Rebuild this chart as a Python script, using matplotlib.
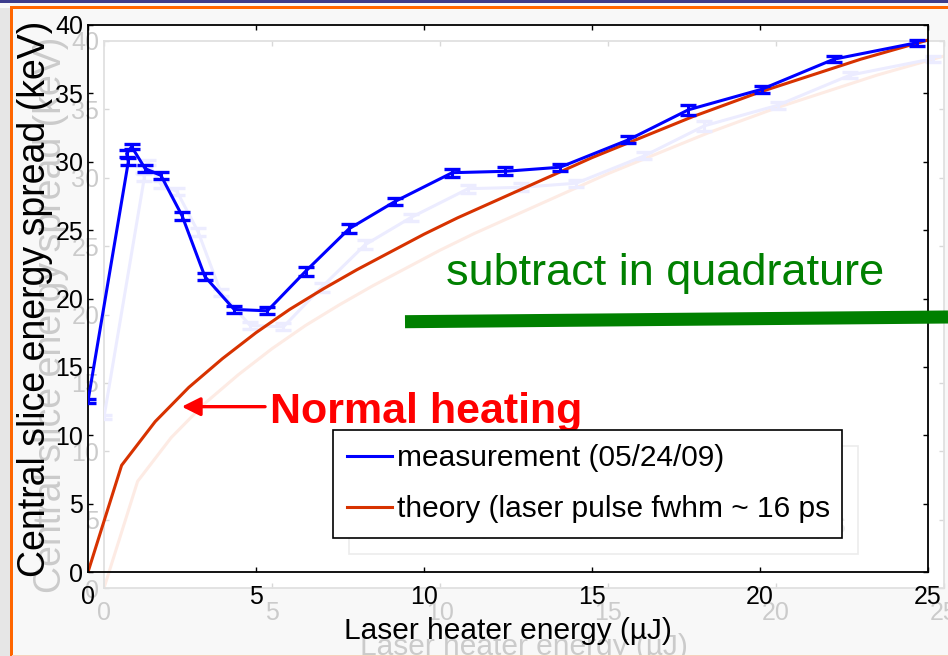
import matplotlib
matplotlib.use("Agg")
import matplotlib.pyplot as plt
from matplotlib.lines import Line2D
from matplotlib.patches import Rectangle

# Slice energy spread measured at the centre of the bunch vs. laser heater pulse energy
energy_uJ = [0.0, 1.2, 1.15, 1.3, 1.7, 2.17, 2.8, 3.48, 4.35, 5.34, 6.48,
             7.77, 9.14, 10.84, 12.41, 14.05, 16.08, 17.87, 20.05, 22.2, 24.66]
spread_keV = [12.5, 30.0, 30.6, 31.1, 29.5, 29.0, 26.05, 21.6, 19.2, 19.1, 22.0,
              25.1, 27.1, 29.2, 29.3, 29.6, 31.6, 33.8, 35.3, 37.5, 38.7]
spread_err = [0.15, 0.25, 0.25, 0.2, 0.25, 0.25, 0.28, 0.25, 0.27, 0.27, 0.33,
              0.33, 0.27, 0.28, 0.3, 0.25, 0.25, 0.37, 0.27, 0.2, 0.2]

# Expected heating for a 16 ps fwhm laser pulse
theory_energy = [0, 1, 2, 3, 4, 5, 6, 7, 8, 9, 10, 11, 12, 13, 14, 15, 16,
                 17, 18, 19, 20, 21, 22, 23, 24, 25]
theory_keV = [0.0, 7.8, 11.0, 13.5, 15.6, 17.5, 19.2, 20.7, 22.1, 23.4, 24.7,
              25.9, 27.0, 28.1, 29.2, 30.3, 31.3, 32.3, 33.3, 34.2, 35.1,
              35.9, 36.7, 37.5, 38.2, 38.9]

x_ticks = [0, 5, 10, 15, 20, 25]
y_ticks = [0, 5, 10, 15, 20, 25, 30, 35, 40]
legend_labels = ["measurement (05/24/09)", "theory (laser pulse fwhm ~ 16 ps"]

FONT = ["Liberation Sans", "DejaVu Sans"]
plt.rcParams["font.family"] = FONT

W, H = 948, 656
fig = plt.figure(figsize=(W / 100, H / 100), dpi=100)
fig.patch.set_facecolor("#f8f8f8")


def frac(x0, y_top, w, h):
    """Pixel box (left, top, width, height) -> figure fraction rect."""
    return [x0 / W, 1 - (y_top + h) / H, w / W, h / H]


MAIN = dict(blue="#0000ff", red="#d73200", text="black", frame="black",
            leg_text="black", leg_frame="black", tick="black")
GHOST = dict(blue="#ececff", red="#fdebe4", text="#cbcbcb", frame="#e0e0e0",
             leg_text="#ececec", leg_frame="#ececec", tick="#d8d8d8")


def draw_panel(ax, pal):
    ax.errorbar(energy_uJ, spread_keV, yerr=spread_err, color=pal["blue"],
                lw=2.2, elinewidth=2.2, capsize=5.8, capthick=2.4, zorder=3)
    ax.plot(theory_energy, theory_keV, color=pal["red"], lw=2.2, zorder=2)
    ax.set_xlim(0, 25)
    ax.set_ylim(0, 40)
    ax.set_xticks(x_ticks)
    ax.set_yticks(y_ticks)
    for s in ax.spines.values():
        s.set_color(pal["frame"])
        s.set_linewidth(1.3)
    ax.tick_params(direction="in", length=3.8, width=1.0, top=True, right=True,
                   colors=pal["tick"], labelcolor=pal["text"], labelsize=18)
    ax.tick_params(axis="x", pad=9.5)
    ax.tick_params(axis="y", pad=3.5)
    ax.set_xlabel("Laser heater energy (\u00b5J)", fontsize=21.5, color=pal["text"])
    ax.set_ylabel("Central slice energy spread (keV)", fontsize=27,
                  color=pal["text"])
    ax.xaxis.set_label_coords(0.5, -0.082)
    ax.yaxis.set_label_coords(-0.042, 0.5)
    handles = [Line2D([], [], color=pal["blue"], lw=2.2),
               Line2D([], [], color=pal["red"], lw=2.2)]
    leg = ax.legend(handles, legend_labels, loc="upper left",
                    bbox_to_anchor=(0.2917, 0.0, 0.606, 0.2596), mode="expand",
                    borderaxespad=0, fontsize=21.5, frameon=True, fancybox=False,
                    framealpha=1, edgecolor=pal["leg_frame"], facecolor="white",
                    handlelength=1.5, handletextpad=0.17, borderpad=0.48,
                    labelspacing=0.77, labelcolor=pal["leg_text"])
    leg.get_frame().set_linewidth(1.2)
    return ax


# white plotting area behind both layers
fig.add_artist(Rectangle((88 / W, 1 - 572 / H), 840 / W, 547 / H,
                         transform=fig.transFigure, facecolor="white",
                         edgecolor="none", zorder=0.5))

ghost = fig.add_axes(frac(104, 41, 840, 547), zorder=1)
ghost.set_facecolor("white")
draw_panel(ghost, GHOST)

ax = fig.add_axes(frac(88, 25, 840, 547), zorder=2)
ax.set_facecolor("none")
draw_panel(ax, MAIN)

# annotations
ax.annotate("", xy=(2.79, 12.09), xytext=(5.27, 12.09),
            arrowprops=dict(arrowstyle="-|>", color="#ff0000", lw=2.4,
                            mutation_scale=28, shrinkA=0, shrinkB=0))
ax.text(5.42, 10.9, "Normal heating", color="#ff0000", fontsize=31,
        fontweight="bold", va="baseline", ha="left")
ax.text(10.65, 20.99, "subtract in quadrature", color="#008000", fontsize=32.5,
        va="baseline", ha="left")

fig.add_artist(Line2D([405 / W, 1.0], [1 - 321.7 / H, 1 - 317.0 / H],
                      transform=fig.transFigure, color="#008000", lw=9.4,
                      solid_capstyle="butt", zorder=5))

# slide frame decorations
fig.add_artist(Rectangle((0, 1 - 2.5 / H), 1, 2.5 / H, transform=fig.transFigure,
                         facecolor="#3c3c8c", edgecolor="none", zorder=6))
fig.add_artist(Rectangle((0, 0), 10 / W, 1 - 8 / H, transform=fig.transFigure,
                         facecolor="#e6e6e6", edgecolor="none", zorder=6))
fig.add_artist(Rectangle((10 / W, 1 - 8.5 / H), 1, 2.5 / H,
                         transform=fig.transFigure, facecolor="#ff6600",
                         edgecolor="none", zorder=6))
fig.add_artist(Rectangle((10 / W, 0), 2.5 / W, 1 - 6 / H,
                         transform=fig.transFigure, facecolor="#ff6600",
                         edgecolor="none", zorder=6))
fig.add_artist(Rectangle((12 / W, 0), 1, 1.5 / H, transform=fig.transFigure,
                         facecolor="#f8d0bc", edgecolor="none", zorder=6))

fig.savefig("out.png", dpi=100, facecolor=fig.get_facecolor())
